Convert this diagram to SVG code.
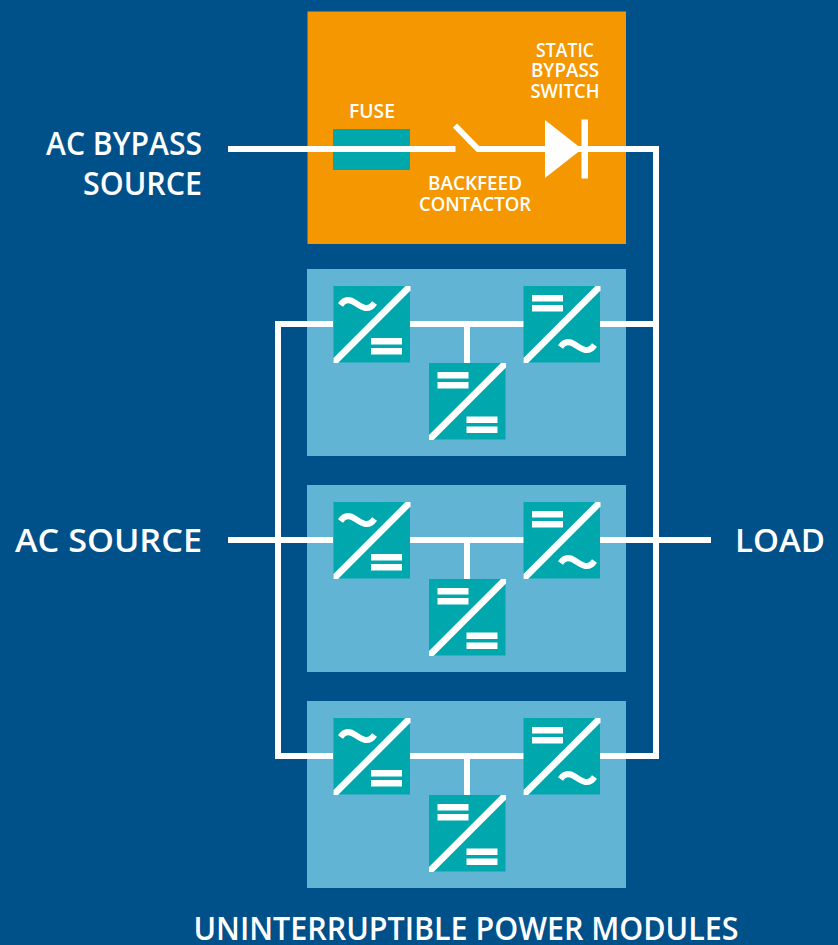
<svg xmlns="http://www.w3.org/2000/svg" width="838" height="945" viewBox="0 0 838 945">
<style>
.w{fill:none;stroke:#fff;stroke-width:6}
.t{font-family:"Open Sans","Noto Sans","Liberation Sans",sans-serif;fill:#fff;font-weight:600}
.l{font-size:33px}
.s{font-size:20px}
.m{fill:#62b4d5}
.c{fill:#00a7ad}
.b{fill:#fff}
.tl{stroke:#fff;stroke-width:6;fill:none}
</style>
<defs>
<polygon id="slash" class="b" points="0,72 72,0 77,0 77,4.500 4.500,77 0,77"/>
<g id="eq"><rect x="0" y="0" width="31" height="6.500" class="b"/><rect x="0" y="10" width="31" height="6.500" class="b"/></g>
<path id="tilde" d="M0 5C4 -1 9 -1 15 3S28 12 34 3" class="tl"/>
<g id="acdc"><rect width="76.500" height="76.500" class="c"/><use href="#slash"/><use href="#tilde" transform="translate(7,14)"/><use href="#eq" transform="translate(37.500,52)"/></g>
<g id="dcac"><rect width="76.500" height="76.500" class="c"/><use href="#slash"/><use href="#eq" transform="translate(8.500,9)"/><use href="#tilde" transform="translate(37,56)"/></g>
<g id="dcdc"><rect width="76.500" height="76.500" class="c"/><use href="#slash"/><use href="#eq" transform="translate(8.500,9)"/><use href="#eq" transform="translate(37.500,53.500)"/></g>
</defs>
<rect width="838" height="945" fill="#00508a"/>
<g id="bypass-box">
<rect x="307.500" y="11.500" width="318.500" height="232.500" fill="#f59700"/>
<rect id="fuse" x="333" y="129" width="77" height="41" class="c"/>
</g>
<g id="module-1"><rect x="307" y="269" width="319" height="187" class="m"/></g>
<g id="module-2"><rect x="307" y="485" width="319" height="187" class="m"/></g>
<g id="module-3"><rect x="307" y="701" width="319" height="187" class="m"/></g>
<g id="connectors">
<path class="w" d="M228 149H455.500M455 125.500L478 149H656V756H600"/>
<path class="w" d="M333 324H278V756H333"/>
<path class="w" d="M228 540H333M600 540H711"/>
<path class="w" d="M600 324H656"/>
<path class="w" d="M410 324H524M410 540H524M410 756H524M467 324V363M467 540V579M467 756V795"/>
</g>
<g id="switch"><path class="b" d="M545 120L582 149L545 178Z"/><rect x="581.500" y="119.500" width="6.500" height="59" class="b"/></g>
<g id="conv-1a"><use href="#acdc" x="333.500" y="286"/></g>
<g id="conv-1b"><use href="#dcac" x="523.500" y="286"/></g>
<g id="conv-1c"><use href="#dcdc" x="429" y="363"/></g>
<g id="conv-2a"><use href="#acdc" x="333.500" y="502"/></g>
<g id="conv-2b"><use href="#dcac" x="523.500" y="502"/></g>
<g id="conv-2c"><use href="#dcdc" x="429" y="579"/></g>
<g id="conv-3a"><use href="#acdc" x="333.500" y="718"/></g>
<g id="conv-3b"><use href="#dcac" x="523.500" y="718"/></g>
<g id="conv-3c"><use href="#dcdc" x="429" y="795"/></g>
<g id="labels">
<text class="t s" x="372" y="118" text-anchor="middle" textLength="46" lengthAdjust="spacingAndGlyphs">FUSE</text>
<text class="t s" x="565" y="57" text-anchor="middle" textLength="58" lengthAdjust="spacingAndGlyphs">STATIC</text>
<text class="t s" x="565" y="77" text-anchor="middle" textLength="68" lengthAdjust="spacingAndGlyphs">BYPASS</text>
<text class="t s" x="565" y="98" text-anchor="middle" textLength="69" lengthAdjust="spacingAndGlyphs">SWITCH</text>
<text class="t s" x="475" y="190" text-anchor="middle" textLength="94" lengthAdjust="spacingAndGlyphs">BACKFEED</text>
<text class="t s" x="475" y="211" text-anchor="middle" textLength="112" lengthAdjust="spacingAndGlyphs">CONTACTOR</text>
<text class="t l" x="202" y="155" text-anchor="end" textLength="156" lengthAdjust="spacingAndGlyphs">AC BYPASS</text>
<text class="t l" x="202" y="195" text-anchor="end" textLength="119" lengthAdjust="spacingAndGlyphs">SOURCE</text>
<text class="t l" x="202" y="552" text-anchor="end" textLength="187" lengthAdjust="spacingAndGlyphs">AC SOURCE</text>
<text class="t l" x="735" y="552" textLength="90" lengthAdjust="spacingAndGlyphs">LOAD</text>
<text class="t l" x="466" y="940" text-anchor="middle" textLength="545" lengthAdjust="spacingAndGlyphs">UNINTERRUPTIBLE POWER MODULES</text>
</g>
</svg>
